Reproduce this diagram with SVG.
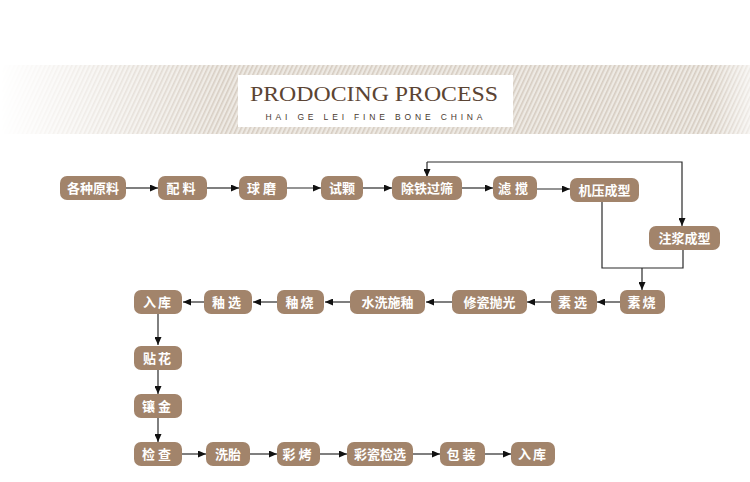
<svg xmlns="http://www.w3.org/2000/svg" width="750" height="482" viewBox="0 0 750 482">
<style>
.n rect{fill:#a2846b}
.n text{fill:#fff;font-family:"Noto Sans CJK SC","Noto Sans",sans-serif;font-weight:bold;font-size:13px;text-anchor:middle}
.c path{fill:none;stroke:#2a2a2a;stroke-width:1.2}
</style>
<defs>
<pattern id="st" width="4" height="4" patternUnits="userSpaceOnUse" patternTransform="rotate(25)">
<rect width="4" height="4" fill="#eeeae4"/>
<rect width="1.6" height="4" fill="#d6ccc1"/>
</pattern>
<linearGradient id="fg" x1="0" y1="0" x2="1" y2="0">
<stop offset="0" stop-color="#fff" stop-opacity="0"/>
<stop offset="0.3" stop-color="#fff" stop-opacity="1"/>
<stop offset="0.95" stop-color="#fff" stop-opacity="1"/>
<stop offset="1" stop-color="#fff" stop-opacity="0.4"/>
</linearGradient>
<mask id="mk"><rect x="0" y="65" width="750" height="69" fill="url(#fg)"/></mask>
<marker id="ah" markerWidth="8" markerHeight="7" refX="8" refY="3.5" orient="auto" markerUnits="userSpaceOnUse">
<path d="M0,0 L8,3.5 L0,7 z" fill="#111"/>
</marker>
</defs>
<rect width="750" height="482" fill="#fff"/>
<g id="header">
<rect x="0" y="65" width="750" height="69" fill="url(#st)" mask="url(#mk)"/>
<rect x="238" y="75" width="275" height="52" fill="#fff"/>
<text x="374" y="101" font-family="Liberation Serif,serif" font-size="22" fill="#5b4433" text-anchor="middle" textLength="248" lengthAdjust="spacingAndGlyphs">PRODOCING PROCESS</text>
<text x="374" y="119.5" font-family="Liberation Sans,sans-serif" font-size="8.5" fill="#4a3a30" text-anchor="middle" textLength="217" lengthAdjust="spacing">HAI GE LEI FINE BONE CHINA</text>
</g>
<g class="c" id="connectors">
<path d="M126,188 H158" marker-end="url(#ah)"/>
<path d="M207,188 H239" marker-end="url(#ah)"/>
<path d="M287,188 H321" marker-end="url(#ah)"/>
<path d="M363,188 H392" marker-end="url(#ah)"/>
<path d="M462,188 H493" marker-end="url(#ah)"/>
<path d="M537,189 H570" marker-end="url(#ah)"/>
<path d="M427,162 H682 V226" marker-end="url(#ah)"/>
<path d="M427,162 V177" marker-end="url(#ah)"/>
<path d="M602,202 V268 H683 V250"/>
<path d="M642,268 V290" marker-end="url(#ah)"/>
<path d="M620,302 H597" marker-end="url(#ah)"/>
<path d="M551,302 H527" marker-end="url(#ah)"/>
<path d="M452,302 H426" marker-end="url(#ah)"/>
<path d="M350,302 H325" marker-end="url(#ah)"/>
<path d="M277,302 H253" marker-end="url(#ah)"/>
<path d="M204,302 H183" marker-end="url(#ah)"/>
<path d="M158,314 V345" marker-end="url(#ah)"/>
<path d="M158,370 V394" marker-end="url(#ah)"/>
<path d="M158,418 V442" marker-end="url(#ah)"/>
<path d="M182,454 H206" marker-end="url(#ah)"/>
<path d="M250,454 H277" marker-end="url(#ah)"/>
<path d="M320,454 H347" marker-end="url(#ah)"/>
<path d="M413,454 H440" marker-end="url(#ah)"/>
<path d="M485,454 H511" marker-end="url(#ah)"/>
</g>
<g class="n" id="n1"><rect x="60" y="176" width="66" height="24" rx="7"/><text x="93" y="192.5">各种原料</text></g>
<g class="n" id="n2"><rect x="158" y="176" width="49" height="24" rx="7"/><text x="182.5" y="192.5" letter-spacing="3">配料</text></g>
<g class="n" id="n3"><rect x="239" y="176" width="48" height="24" rx="7"/><text x="263" y="192.5" letter-spacing="3">球磨</text></g>
<g class="n" id="n4"><rect x="321" y="176" width="42" height="24" rx="7"/><text x="342" y="192.5">试颗</text></g>
<g class="n" id="n5"><rect x="392" y="176" width="70" height="24" rx="7"/><text x="427" y="192.5">除铁过筛</text></g>
<g class="n" id="n6"><rect x="493" y="176" width="44" height="24" rx="7"/><text x="515" y="192.5" letter-spacing="4">滤搅</text></g>
<g class="n" id="n7"><rect x="570" y="178" width="69" height="24" rx="7"/><text x="604.5" y="194.5">机压成型</text></g>
<g class="n" id="n8"><rect x="649" y="226" width="71" height="24" rx="7"/><text x="684.5" y="242.5">注浆成型</text></g>
<g class="n" id="n9"><rect x="620" y="290" width="45" height="24" rx="7"/><text x="642.5" y="306.5" letter-spacing="2">素烧</text></g>
<g class="n" id="n10"><rect x="551" y="290" width="46" height="24" rx="7"/><text x="574" y="306.5" letter-spacing="3">素选</text></g>
<g class="n" id="n11"><rect x="452" y="290" width="75" height="24" rx="7"/><text x="489.5" y="306.5">修瓷抛光</text></g>
<g class="n" id="n12"><rect x="350" y="290" width="75" height="24" rx="7"/><text x="387.5" y="306.5">水洗施釉</text></g>
<g class="n" id="n13"><rect x="277" y="290" width="47" height="24" rx="7"/><text x="300.5" y="306.5" letter-spacing="2">釉烧</text></g>
<g class="n" id="n14"><rect x="204" y="290" width="48" height="24" rx="7"/><text x="228" y="306.5" letter-spacing="3">釉选</text></g>
<g class="n" id="n15"><rect x="134" y="290" width="48" height="24" rx="7"/><text x="158" y="306.5" letter-spacing="2">入库</text></g>
<g class="n" id="n16"><rect x="134" y="346" width="48" height="24" rx="7"/><text x="158" y="362.5" letter-spacing="2">贴花</text></g>
<g class="n" id="n17"><rect x="134" y="394" width="48" height="24" rx="7"/><text x="158" y="410.5" letter-spacing="3">镶金</text></g>
<g class="n" id="n18"><rect x="134" y="442" width="48" height="24" rx="7"/><text x="158" y="458.5" letter-spacing="3">检查</text></g>
<g class="n" id="n19"><rect x="206" y="442" width="44" height="24" rx="7"/><text x="228" y="458.5">洗胎</text></g>
<g class="n" id="n20"><rect x="277" y="442" width="43" height="24" rx="7"/><text x="298.5" y="458.5" letter-spacing="3">彩烤</text></g>
<g class="n" id="n21"><rect x="347" y="442" width="66" height="24" rx="7"/><text x="380" y="458.5">彩瓷检选</text></g>
<g class="n" id="n22"><rect x="440" y="442" width="45" height="24" rx="7"/><text x="462.5" y="458.5" letter-spacing="3">包装</text></g>
<g class="n" id="n23"><rect x="511" y="442" width="44" height="24" rx="7"/><text x="533" y="458.5" letter-spacing="2">入库</text></g>
</svg>
